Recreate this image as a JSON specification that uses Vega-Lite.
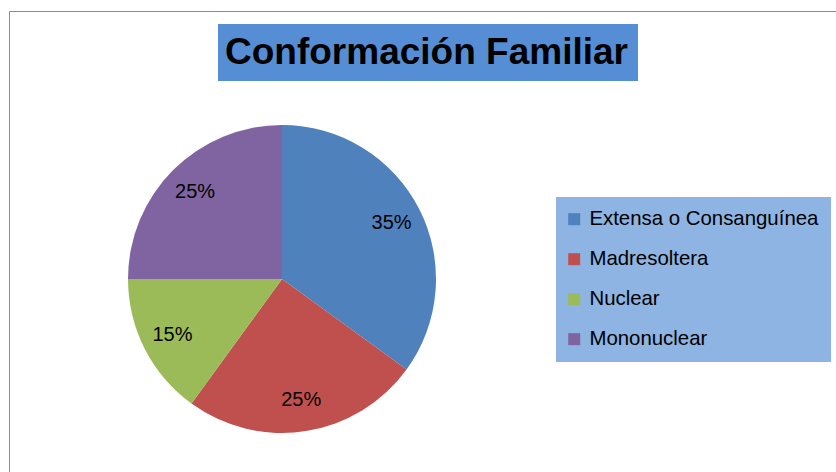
{
  "$schema": "https://vega.github.io/schema/vega-lite/v6.json",
  "width": 564,
  "height": 386,
  "autosize": {"type": "none"},
  "padding": {"left": 0, "top": 86, "right": 272, "bottom": 0},
  "background": "white",
  "config": {"view": {"stroke": null}},
  "data": {"values": [
    {"categoria": "Extensa o Consanguínea", "proporcion": 0.35, "orden": 1},
    {"categoria": "Madresoltera", "proporcion": 0.25, "orden": 2},
    {"categoria": "Nuclear", "proporcion": 0.15, "orden": 3},
    {"categoria": "Mononuclear", "proporcion": 0.25, "orden": 4}
  ]},
  "layer": [
    {
      "mark": {"type": "arc", "outerRadius": 154, "stroke": null},
      "encoding": {
        "theta": {"field": "proporcion", "type": "quantitative", "stack": true},
        "order": {"field": "orden", "type": "quantitative"},
        "color": {
          "field": "categoria",
          "type": "nominal",
          "scale": {
            "domain": ["Extensa o Consanguínea", "Madresoltera", "Nuclear", "Mononuclear"],
            "range": ["#4F81BD", "#C0504D", "#9BBB59", "#8064A2"]
          },
          "legend": {
            "orient": "none",
            "legendX": 556,
            "legendY": 111,
            "title": null,
            "fillColor": "#8EB4E3",
            "padding": 12,
            "symbolType": "square",
            "symbolSize": 144,
            "symbolStrokeWidth": 0,
            "symbolOpacity": 1,
            "symbolOffset": -4,
            "labelFontSize": 20.4,
            "labelFont": "Liberation Sans",
            "labelColor": "#000000",
            "labelOffset": 5,
            "rowPadding": 19,
            "labelLimit": 400
          }
        }
      }
    },
    {
      "mark": {"type": "text", "radius": 123, "fontSize": 20, "font": "Liberation Sans", "color": "#000000"},
      "encoding": {
        "theta": {"field": "proporcion", "type": "quantitative", "stack": true},
        "order": {"field": "orden", "type": "quantitative"},
        "text": {"field": "proporcion", "type": "quantitative", "format": ".0%"}
      }
    },
    {
      "mark": {"type": "point", "opacity": 0, "size": 0},
      "encoding": {
        "stroke": {
          "datum": "Conformación Familiar",
          "scale": {"range": ["#558ED5"]},
          "legend": {
            "orient": "none",
            "legendX": 218,
            "legendY": -62,
            "title": null,
            "fillColor": "#558ED5",
            "padding": 10,
            "symbolSize": 0,
            "symbolOpacity": 0,
            "symbolStrokeWidth": 0,
            "labelOffset": -40,
            "labelFontSize": 37,
            "labelFont": "Liberation Sans",
            "labelFontWeight": "bold",
            "labelColor": "#000000",
            "labelLimit": 800
          }
        },
        "fill": {
          "datum": 1,
          "type": "quantitative",
          "scale": {"domain": [0, 1], "range": ["#ffffff", "#ffffff"]},
          "legend": {
            "orient": "none",
            "legendX": 9,
            "legendY": -75,
            "direction": "vertical",
            "title": null,
            "labels": false,
            "ticks": false,
            "padding": 0,
            "gradientLength": 466,
            "gradientThickness": 832,
            "gradientOpacity": 0,
            "gradientStrokeWidth": 0,
            "strokeColor": "#8C8C8C"
          }
        }
      }
    }
  ]
}
